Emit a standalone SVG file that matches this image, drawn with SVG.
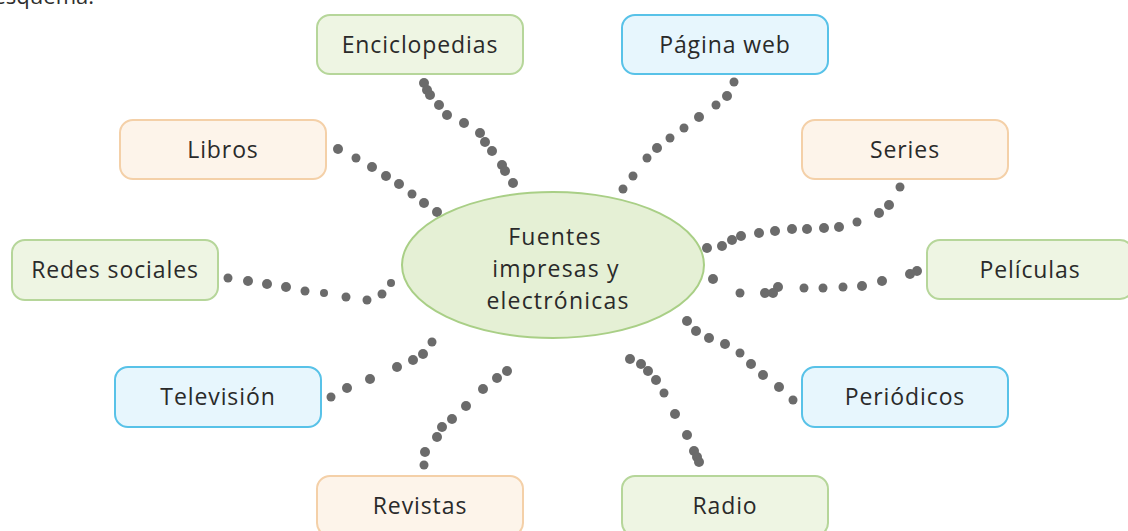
<svg xmlns="http://www.w3.org/2000/svg" width="1128" height="531" viewBox="0 0 1128 531">
<style>
.box{stroke-width:2}
.g{fill:#eef5e3;stroke:#b6d69a}
.b{fill:#e7f6fd;stroke:#58c2e8}
.o{fill:#fdf4ea;stroke:#f4d0a8}
.t{font-family:"Open Sans","Noto Sans",sans-serif;font-size:23px;fill:#2a2a2a;text-anchor:middle;letter-spacing:0.9px}
.c{letter-spacing:1.2px}
.d circle{fill:#6b6b6b}
</style>
<rect width="1128" height="531" fill="#ffffff"/>
<text x="94" y="4" font-family="Open Sans, sans-serif" font-size="22" fill="#2e2e2e" text-anchor="end">esquema:</text>
<g id="connectors" class="d">
<g id="c-enciclopedias">
<circle cx="424" cy="83" r="5"/><circle cx="427" cy="90" r="5"/><circle cx="430" cy="95" r="5"/><circle cx="439" cy="105" r="5"/><circle cx="447" cy="115" r="5"/><circle cx="464" cy="123" r="5"/><circle cx="480" cy="133" r="5"/><circle cx="485" cy="142" r="5"/><circle cx="492" cy="151" r="5"/><circle cx="502" cy="165" r="5"/><circle cx="505" cy="171" r="5"/><circle cx="513" cy="183" r="5"/>
</g>
<g id="c-libros">
<circle cx="338" cy="149" r="5"/><circle cx="356" cy="158" r="4.5"/><circle cx="372" cy="167" r="5"/><circle cx="386" cy="176" r="5"/><circle cx="399" cy="184" r="5"/><circle cx="412" cy="194" r="4.5"/><circle cx="424" cy="203" r="5"/><circle cx="437" cy="212" r="5"/>
</g>
<g id="c-pagina">
<circle cx="734" cy="82" r="4.5"/><circle cx="727" cy="96" r="5"/><circle cx="716" cy="105" r="4.5"/><circle cx="699" cy="117" r="5"/><circle cx="684" cy="128" r="4.5"/><circle cx="670" cy="138" r="4.5"/><circle cx="657" cy="148" r="5"/><circle cx="647" cy="158" r="4.5"/><circle cx="633" cy="176" r="4.5"/><circle cx="623" cy="189" r="4.5"/>
</g>
<g id="c-redes">
<circle cx="228" cy="278" r="4.5"/><circle cx="248" cy="281" r="5"/><circle cx="267" cy="284" r="5"/><circle cx="286" cy="287" r="5"/><circle cx="305" cy="291" r="4.5"/><circle cx="324" cy="293" r="4"/><circle cx="346" cy="297" r="4.5"/><circle cx="367" cy="300" r="4.5"/><circle cx="382" cy="294" r="4.5"/><circle cx="391" cy="283" r="4"/>
</g>
<g id="c-series">
<circle cx="900" cy="187" r="4.5"/><circle cx="889" cy="205" r="5"/><circle cx="879" cy="213" r="5"/><circle cx="857" cy="222" r="4.5"/><circle cx="839" cy="227" r="5"/><circle cx="824" cy="228" r="5"/><circle cx="807" cy="229" r="5"/><circle cx="792" cy="229" r="5"/><circle cx="775" cy="231" r="5"/><circle cx="759" cy="233" r="5"/><circle cx="741" cy="236" r="5"/><circle cx="732" cy="240" r="5"/><circle cx="722" cy="246" r="5"/><circle cx="707" cy="248" r="5"/>
</g>
<g id="c-peliculas">
<circle cx="917" cy="271" r="5"/><circle cx="910" cy="274" r="5"/><circle cx="882" cy="281" r="5"/><circle cx="862" cy="286" r="5"/><circle cx="843" cy="287" r="4.5"/><circle cx="823" cy="288" r="4.5"/><circle cx="804" cy="288" r="4.5"/><circle cx="778" cy="287" r="5"/><circle cx="773" cy="293" r="5"/><circle cx="765" cy="293" r="5"/><circle cx="740" cy="293" r="4.5"/><circle cx="713" cy="279" r="5"/>
</g>
<g id="c-television">
<circle cx="331" cy="397" r="4.5"/><circle cx="347" cy="388" r="5"/><circle cx="370" cy="379" r="5"/><circle cx="397" cy="367" r="5"/><circle cx="413" cy="360" r="5"/><circle cx="423" cy="354" r="5"/><circle cx="432" cy="342" r="4.5"/>
</g>
<g id="c-revistas">
<circle cx="424" cy="465" r="4.5"/><circle cx="425" cy="452" r="5"/><circle cx="437" cy="437" r="5"/><circle cx="442" cy="427" r="5"/><circle cx="452" cy="419" r="5"/><circle cx="466" cy="406" r="5"/><circle cx="483" cy="389" r="5"/><circle cx="497" cy="378" r="5"/><circle cx="507" cy="371" r="5"/>
</g>
<g id="c-periodicos">
<circle cx="687" cy="321" r="5"/><circle cx="696" cy="331" r="5"/><circle cx="709" cy="338" r="5"/><circle cx="725" cy="344" r="5"/><circle cx="740" cy="353" r="4.5"/><circle cx="751" cy="364" r="5"/><circle cx="763" cy="375" r="5"/><circle cx="779" cy="387" r="5"/><circle cx="793" cy="400" r="4.5"/>
</g>
<g id="c-radio">
<circle cx="630" cy="359" r="5"/><circle cx="641" cy="364" r="5"/><circle cx="648" cy="371" r="5"/><circle cx="656" cy="380" r="5"/><circle cx="664" cy="393" r="4.5"/><circle cx="675" cy="414" r="5"/><circle cx="687" cy="435" r="5"/><circle cx="694" cy="451" r="5"/><circle cx="697" cy="457" r="5"/><circle cx="699" cy="462" r="5"/>
</g>
</g>
<g id="center">
<ellipse cx="553" cy="265" rx="151" ry="73" fill="#e5f0d5" stroke="#a9cf86" stroke-width="2"/>
<text class="t c" x="555" y="245">Fuentes</text>
<text class="t c" x="556" y="277">impresas y</text>
<text class="t c" x="558" y="309">electrónicas</text>
</g>
<g id="n-enciclopedias"><rect class="box g" x="317" y="15" width="206" height="59" rx="13"/><text class="t" x="420" y="53">Enciclopedias</text></g>
<g id="n-pagina"><rect class="box b" x="622" y="15" width="206" height="59" rx="13"/><text class="t" x="725" y="53">Página web</text></g>
<g id="n-libros"><rect class="box o" x="120" y="120" width="206" height="59" rx="13"/><text class="t" x="223" y="158">Libros</text></g>
<g id="n-series"><rect class="box o" x="802" y="120" width="206" height="59" rx="13"/><text class="t" x="905" y="158">Series</text></g>
<g id="n-redes"><rect class="box g" x="12" y="240" width="206" height="60" rx="13"/><text class="t" x="115" y="278">Redes sociales</text></g>
<g id="n-peliculas"><rect class="box g" x="927" y="240" width="206" height="59" rx="13"/><text class="t" x="1030" y="278">Películas</text></g>
<g id="n-television"><rect class="box b" x="115" y="367" width="206" height="60" rx="13"/><text class="t" x="218" y="405">Televisión</text></g>
<g id="n-periodicos"><rect class="box b" x="802" y="367" width="206" height="60" rx="13"/><text class="t" x="905" y="405">Periódicos</text></g>
<g id="n-revistas"><rect class="box o" x="317" y="476" width="206" height="60" rx="13"/><text class="t" x="420" y="514">Revistas</text></g>
<g id="n-radio"><rect class="box g" x="622" y="476" width="206" height="60" rx="13"/><text class="t" x="725" y="514">Radio</text></g>
</svg>
